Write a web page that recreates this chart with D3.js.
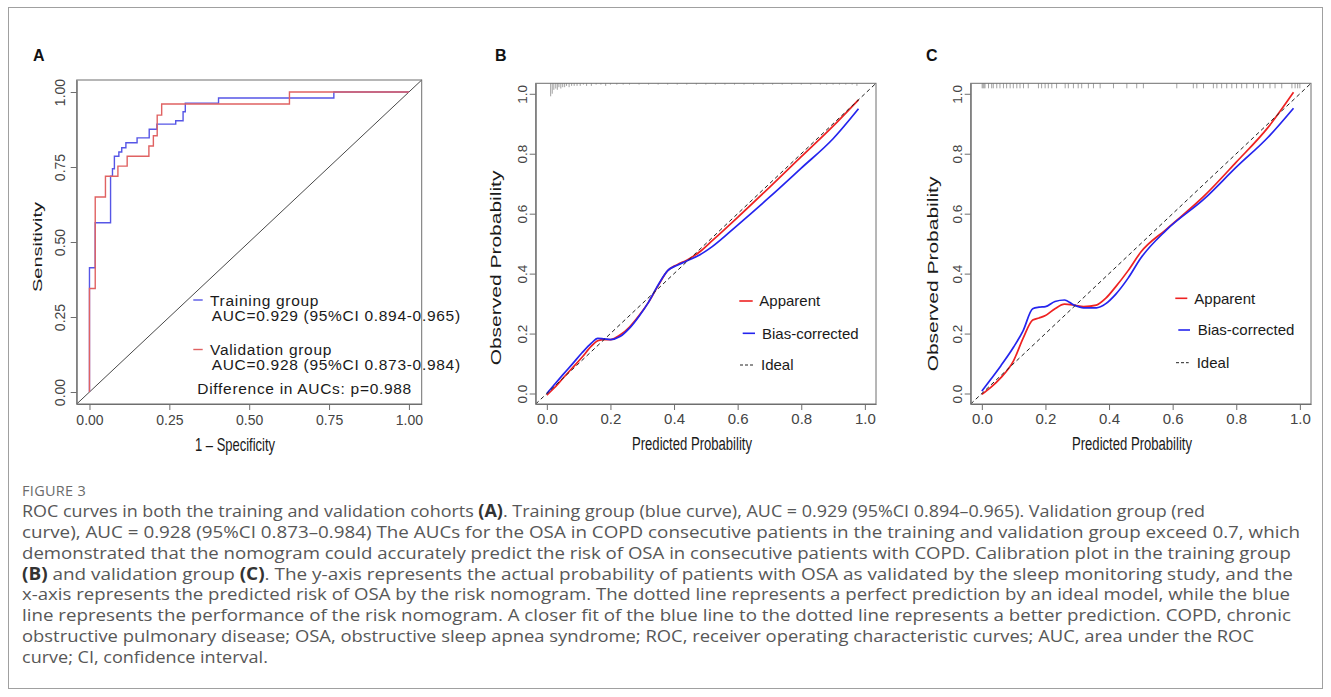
<!DOCTYPE html>
<html>
<head>
<meta charset="utf-8">
<script src="https://cdn.jsdelivr.net/npm/d3@7"></script>
<style>
  body { margin: 0; background: #fff; }
  svg { display: block; }
</style>
</head>
<body>
<svg id="fig" width="1331" height="697"></svg>
<script>
// ---------- data ----------
// Panel A: ROC vertices (1 - specificity, sensitivity)
var rocTrainFpr = [0, 0, 0.018, 0.066, 0.072, 0.078, 0.092, 0.101, 0.114, 0.149, 0.187, 0.211, 0.27, 0.293, 0.30, 0.404, 0.765, 1.0];
var rocTrainTpr = [0, 0.414, 0.564, 0.719, 0.744, 0.786, 0.800, 0.814, 0.831, 0.847, 0.876, 0.893, 0.904, 0.934, 0.963, 0.980, 1.0, 1.0];
var rocValidFpr = [0, 0, 0.018, 0.05, 0.089, 0.118, 0.186, 0.2, 0.212, 0.226, 0.626, 1.0];
var rocValidTpr = [0, 0.345, 0.650, 0.719, 0.753, 0.786, 0.82, 0.854, 0.923, 0.960, 1.0, 1.0];
var rocTicks = [0, 0.25, 0.5, 0.75, 1];
var rocLegendNames = ['Training group', 'Validation group'];
var rocLegendAuc = ['AUC=0.929 (95%CI 0.894-0.965)', 'AUC=0.928 (95%CI 0.873-0.984)'];
var rocDiffText = 'Difference in AUCs: p=0.988';

// Panels B, C: calibration curves
var calibTicks = [0, 0.2, 0.4, 0.6, 0.8, 1.0];
var calibLegend = ['Apparent', 'Bias-corrected', 'Ideal'];

var calibBPred     = [0.0, 0.02, 0.05, 0.08, 0.11, 0.14, 0.16, 0.18, 0.2, 0.23, 0.26, 0.29, 0.32, 0.35, 0.38, 0.41, 0.44, 0.48, 0.52, 0.6, 0.7, 0.8, 0.9, 0.98];
var calibBApparent = [-0.005, 0.015, 0.05, 0.085, 0.12, 0.158, 0.176, 0.18, 0.18, 0.195, 0.222, 0.26, 0.305, 0.36, 0.41, 0.43, 0.445, 0.472, 0.51, 0.588, 0.688, 0.79, 0.892, 0.98];
var calibBBias     = [0.0, 0.025, 0.062, 0.098, 0.135, 0.168, 0.184, 0.182, 0.18, 0.19, 0.218, 0.258, 0.305, 0.362, 0.41, 0.428, 0.442, 0.462, 0.49, 0.562, 0.655, 0.752, 0.85, 0.95];
var rugBPred  = [0.012, 0.017, 0.022, 0.028, 0.033, 0.038, 0.044, 0.05, 0.056, 0.062, 0.07, 0.078, 0.086, 0.095, 0.105, 0.115, 0.125, 0.14, 0.155, 0.17, 0.185, 0.2, 0.22, 0.24, 0.26, 0.29, 0.32, 0.35, 0.38, 0.41, 0.44, 0.47, 0.5, 0.53, 0.56, 0.59, 0.62, 0.65, 0.68, 0.71, 0.74, 0.77, 0.8, 0.83, 0.86, 0.88, 0.9, 0.92, 0.94, 0.96, 0.975];
var rugBCount = [10, 8, 5, 4, 5, 3, 4, 3, 3, 2, 3, 2, 2, 2, 2, 1, 2, 2, 1, 1, 2, 1, 1, 1, 1, 1, 1, 1, 1, 1, 1, 1, 1, 1, 1, 1, 1, 1, 1, 1, 1, 1, 1, 1, 1, 1, 1, 1, 1, 1, 2];

var calibCPred     = [0.0, 0.03, 0.06, 0.10, 0.13, 0.16, 0.18, 0.20, 0.23, 0.26, 0.29, 0.32, 0.36, 0.39, 0.42, 0.46, 0.50, 0.58, 0.7, 0.8, 0.9, 0.98];
var calibCApparent = [-0.003, 0.022, 0.053, 0.11, 0.185, 0.245, 0.252, 0.26, 0.283, 0.298, 0.295, 0.29, 0.295, 0.318, 0.355, 0.41, 0.472, 0.548, 0.66, 0.772, 0.888, 1.005];
var calibCBias     = [0.008, 0.05, 0.093, 0.155, 0.21, 0.283, 0.288, 0.29, 0.307, 0.312, 0.295, 0.286, 0.286, 0.3, 0.33, 0.385, 0.452, 0.545, 0.65, 0.755, 0.855, 0.952];
var rugCPred  = [0.001, 0.004, 0.007, 0.01, 0.021, 0.031, 0.036, 0.047, 0.057, 0.068, 0.078, 0.089, 0.099, 0.11, 0.12, 0.131, 0.146, 0.178, 0.188, 0.199, 0.209, 0.22, 0.235, 0.262, 0.272, 0.288, 0.303, 0.314, 0.335, 0.351, 0.372, 0.414, 0.456, 0.487, 0.508, 0.613, 0.665, 0.676, 0.697, 0.728, 0.739, 0.754, 0.77, 0.786, 0.801, 0.817, 0.833, 0.854, 0.87, 0.885, 0.906, 0.922, 0.943, 0.975, 0.985, 0.993, 1.0];
var rugCCount = rugCPred.map(function() { return 1; });

// Caption
var captionTitle = 'FIGURE 3';
var captionLines = [
  'ROC curves in both the training and validation cohorts **(A)**. Training group (blue curve), AUC = 0.929 (95%CI 0.894\u20130.965). Validation group (red',
  'curve), AUC = 0.928 (95%CI 0.873\u20130.984) The AUCs for the OSA in COPD consecutive patients in the training and validation group exceed 0.7, which',
  'demonstrated that the nomogram could accurately predict the risk of OSA in consecutive patients with COPD. Calibration plot in the training group',
  '**(B)** and validation group **(C)**. The y-axis represents the actual probability of patients with OSA as validated by the sleep monitoring study, and the',
  'x-axis represents the predicted risk of OSA by the risk nomogram. The dotted line represents a perfect prediction by an ideal model, while the blue',
  'line represents the performance of the risk nomogram. A closer fit of the blue line to the dotted line represents a better prediction. COPD, chronic',
  'obstructive pulmonary disease; OSA, obstructive sleep apnea syndrome; ROC, receiver operating characteristic curves; AUC, area under the ROC',
  'curve; CI, confidence interval.'
];
// right end of each caption line in the reference (last line: natural, slightly widened)
var captionLineEnds = [1205, 1300, 1291, 1293, 1290, 1291, 1254, null];

// ---------- drawing ----------
var svg = d3.select('#fig');
var NARROW = '"Liberation Sans Narrow", "Arial Narrow", sans-serif';
var ARIAL = '"Liberation Sans", Arial, sans-serif';

// outer frame
svg.append('rect')
  .attr('x', 8.5).attr('y', 7.5)
  .attr('width', 1314).attr('height', 681)
  .attr('fill', 'none').attr('stroke', '#a0a0a0');

// panel letters
var letterX = [33, 495, 926];
svg.selectAll('text.letter')
  .data(['A', 'B', 'C'])
  .enter().append('text')
  .attr('x', function(d, i) { return letterX[i]; })
  .attr('y', 61)
  .attr('font-family', ARIAL)
  .attr('font-weight', 'bold')
  .attr('font-size', 16)
  .attr('fill', '#111')
  .text(function(d) { return d; });

function styleAxis(ax) {
  ax.select('.domain').attr('stroke', '#6e6e6e');
  ax.selectAll('.tick line').attr('stroke', '#6e6e6e');
}

// y axis with R style rotated labels
function leftAxis(g, y, left, labelX, ticks, fmt, font, size) {
  var ax = g.append('g')
    .attr('transform', 'translate(' + left + ',0)')
    .call(d3.axisLeft(y).tickValues(ticks).tickFormat(fmt).tickSize(6).tickSizeOuter(0));
  styleAxis(ax);
  ax.selectAll('.tick text')
    .attr('x', null).attr('dy', '0.36em')
    .attr('text-anchor', 'middle')
    .attr('transform', 'translate(' + (labelX - left) + ',0) rotate(-90)')
    .attr('font-family', font).attr('font-size', size).attr('fill', '#444');
}

function bottomAxis(g, x, bottom, labelY, ticks, fmt, font, size) {
  var ax = g.append('g')
    .attr('transform', 'translate(0,' + bottom + ')')
    .call(d3.axisBottom(x).tickValues(ticks).tickFormat(fmt).tickSize(6).tickSizeOuter(0));
  styleAxis(ax);
  ax.selectAll('.tick text')
    .attr('y', labelY - bottom).attr('dy', '0.36em')
    .attr('font-family', font).attr('font-size', size).attr('fill', '#444');
}

function box(g, x0, y0, x1, y1) {
  g.append('rect')
    .attr('x', x0).attr('y', y0)
    .attr('width', x1 - x0).attr('height', y1 - y0)
    .attr('fill', 'none').attr('stroke', '#6e6e6e');
}

function yTitle(g, cx, cy, str, size, squeeze) {
  g.append('text')
    .attr('transform', 'translate(' + cx + ',' + cy + ') scale(' + squeeze + ',1) rotate(-90)')
    .attr('text-anchor', 'middle').attr('dy', '0.35em')
    .attr('font-family', ARIAL).attr('font-size', size).attr('fill', '#1a1a1a')
    .text(str);
}

function xTitle(g, cx, cy, str, size, width) {
  g.append('text')
    .attr('x', cx - width / 2).attr('y', cy).attr('dy', '0.35em')
    .attr('textLength', width).attr('lengthAdjust', 'spacingAndGlyphs')
    .attr('font-family', ARIAL).attr('font-size', size).attr('fill', '#1a1a1a')
    .text(str);
}

// ---- Panel A: ROC ----
(function() {
  var L = 76.7, R = 421.7, T = 80, B = 404;
  var g = svg.append('g');
  var x = d3.scaleLinear().domain([-0.04, 1.04]).range([L, R]);
  var y = d3.scaleLinear().domain([-0.04, 1.04]).range([B, T]);

  // reference diagonal
  g.append('line')
    .attr('x1', x(-0.04)).attr('y1', y(-0.04))
    .attr('x2', x(1.04)).attr('y2', y(1.04))
    .attr('stroke', '#333').attr('stroke-width', 0.9);

  var step = d3.line()
    .x(function(d) { return x(d[0]); })
    .y(function(d) { return y(d[1]); })
    .curve(d3.curveStepAfter);

  g.append('path').datum(d3.zip(rocTrainFpr, rocTrainTpr))
    .attr('d', step).attr('fill', 'none')
    .attr('stroke', '#5656e6').attr('stroke-width', 1.4);
  g.append('path').datum(d3.zip(rocValidFpr, rocValidTpr))
    .attr('d', step).attr('fill', 'none')
    .attr('stroke', '#e06262').attr('stroke-width', 1.4);

  box(g, L, T, R, B);
  var f2 = d3.format('.2f');
  leftAxis(g, y, L, 60, rocTicks, f2, NARROW, 14);
  bottomAxis(g, x, B, 420, rocTicks, f2, NARROW, 14);
  yTitle(g, 37, 247, 'Sensitivity', 20, 0.68);
  xTitle(g, 235, 444, '1 \u2013 Specificity', 19, 80);

  // legend
  var legColors = ['#5656e6', '#e06262'];
  var legY = [300, 349.5];
  legY.forEach(function(ly, i) {
    g.append('line')
      .attr('x1', 193.3).attr('x2', 202.7).attr('y1', ly).attr('y2', ly)
      .attr('stroke', legColors[i]).attr('stroke-width', 1.4);
    g.append('text')
      .attr('x', 210).attr('y', ly).attr('dy', '0.36em')
      .attr('font-family', NARROW).attr('font-size', 15.5)
      .attr('letter-spacing', 0.7).attr('fill', '#1a1a1a')
      .text(rocLegendNames[i]);
    g.append('text')
      .attr('x', 211.7).attr('y', ly + 15).attr('dy', '0.36em')
      .attr('font-family', NARROW).attr('font-size', 15.5)
      .attr('letter-spacing', 0.7).attr('fill', '#1a1a1a')
      .text(rocLegendAuc[i]);
  });
  g.append('text')
    .attr('x', 197.3).attr('y', 388.5).attr('dy', '0.36em')
    .attr('font-family', NARROW).attr('font-size', 15.5)
    .attr('letter-spacing', 0.7).attr('fill', '#1a1a1a')
    .text(rocDiffText);
})();

// ---- Panels B and C: calibration ----
function drawCalibration(cfg) {
  var L = cfg.left, R = cfg.left + 340.3, T = 83.3, B = 404;
  var g = svg.append('g');
  var x = d3.scaleLinear().domain([-0.035, 1.035]).range([L, R]);
  var y = d3.scaleLinear().domain([-0.035, 1.035]).range([B, T]);

  // distribution of predictions along the top
  g.selectAll('line.rug')
    .data(d3.zip(cfg.rugX, cfg.rugN))
    .enter().append('line')
    .attr('x1', function(d) { return x(d[0]); })
    .attr('x2', function(d) { return x(d[0]); })
    .attr('y1', T)
    .attr('y2', function(d) { return T + d[1] * cfg.rugUnit; })
    .attr('stroke', '#8a8a8a').attr('stroke-width', 0.8);

  var line = d3.line()
    .x(function(d) { return x(d[0]); })
    .y(function(d) { return y(d[1]); })
    .curve(d3.curveMonotoneX);

  g.append('path').datum(d3.zip(cfg.pred, cfg.apparent))
    .attr('d', line).attr('fill', 'none')
    .attr('stroke', '#ee2222').attr('stroke-width', 1.7);
  g.append('path').datum(d3.zip(cfg.pred, cfg.bias))
    .attr('d', line).attr('fill', 'none')
    .attr('stroke', '#2424ee').attr('stroke-width', 1.7);

  // ideal
  g.append('line')
    .attr('x1', x(-0.035)).attr('y1', y(-0.035))
    .attr('x2', x(1.035)).attr('y2', y(1.035))
    .attr('stroke', '#222').attr('stroke-width', 1)
    .attr('stroke-dasharray', '4,3');

  box(g, L, T, R, B);
  var f1 = d3.format('.1f');
  leftAxis(g, y, L, L - 13.2, calibTicks, f1, ARIAL, 13.5);
  bottomAxis(g, x, B, 419, calibTicks, f1, NARROW, 15);
  yTitle(g, cfg.yTitleX, cfg.yTitleY, 'Observed Probability', 21, 0.72);
  xTitle(g, cfg.xTitleX, 444, 'Predicted Probability', 18, 120);

  // legend
  var legColors = ['#ee2222', '#2424ee', '#222'];
  calibLegend.forEach(function(name, i) {
    var ly = cfg.legY[i];
    g.append('line')
      .attr('x1', cfg.legLine[i][0]).attr('x2', cfg.legLine[i][1])
      .attr('y1', ly).attr('y2', ly)
      .attr('stroke', legColors[i]).attr('stroke-width', i === 2 ? 1 : 1.6)
      .attr('stroke-dasharray', i === 2 ? '3,2' : null);
    g.append('text')
      .attr('x', cfg.legText[i]).attr('y', ly).attr('dy', '0.36em')
      .attr('font-family', NARROW).attr('font-size', 15).attr('fill', '#1a1a1a')
      .text(name);
  });
}

drawCalibration({
  left: 535.7,
  pred: calibBPred, apparent: calibBApparent, bias: calibBBias,
  rugX: rugBPred, rugN: rugBCount, rugUnit: 1.3,
  yTitleX: 496, yTitleY: 268, xTitleX: 692,
  legY: [301, 333.3, 365],
  legLine: [[739.3, 752.7], [742.7, 755], [740, 753.3]],
  legText: [759.3, 762, 761]
});

drawCalibration({
  left: 970.7,
  pred: calibCPred, apparent: calibCApparent, bias: calibCBias,
  rugX: rugCPred, rugN: rugCCount, rugUnit: 5,
  yTitleX: 932.7, yTitleY: 274, xTitleX: 1132,
  legY: [298.3, 330, 362.7],
  legLine: [[1175.3, 1187.3], [1178.3, 1190], [1176, 1188.7]],
  legText: [1194.3, 1197.7, 1196.7]
});

// ---- caption ----
var cap = svg.append('g').attr('font-family', '"Open Sans", Lato, sans-serif');
cap.append('text')
  .attr('x', 22).attr('y', 496)
  .attr('font-size', 14.5).attr('letter-spacing', 0.3)
  .attr('fill', '#6b6b6b')
  .text(captionTitle);

captionLines.forEach(function(ln, i) {
  var t = cap.append('text')
    .attr('x', 22).attr('y', 517 + i * 20.86)
    .attr('font-size', 17).attr('fill', '#575757');
  ln.split(/(\*\*[^*]+\*\*)/).forEach(function(part) {
    if (!part) return;
    var bold = part.indexOf('**') === 0;
    t.append('tspan')
      .attr('font-weight', bold ? 'bold' : null)
      .attr('fill', bold ? '#333' : null)
      .text(bold ? part.slice(2, -2) : part);
  });
  var target = captionLineEnds[i] ? captionLineEnds[i] - 22 : t.node().getComputedTextLength() * 1.06;
  t.attr('textLength', target).attr('lengthAdjust', 'spacingAndGlyphs');
});
</script>
</body>
</html>
